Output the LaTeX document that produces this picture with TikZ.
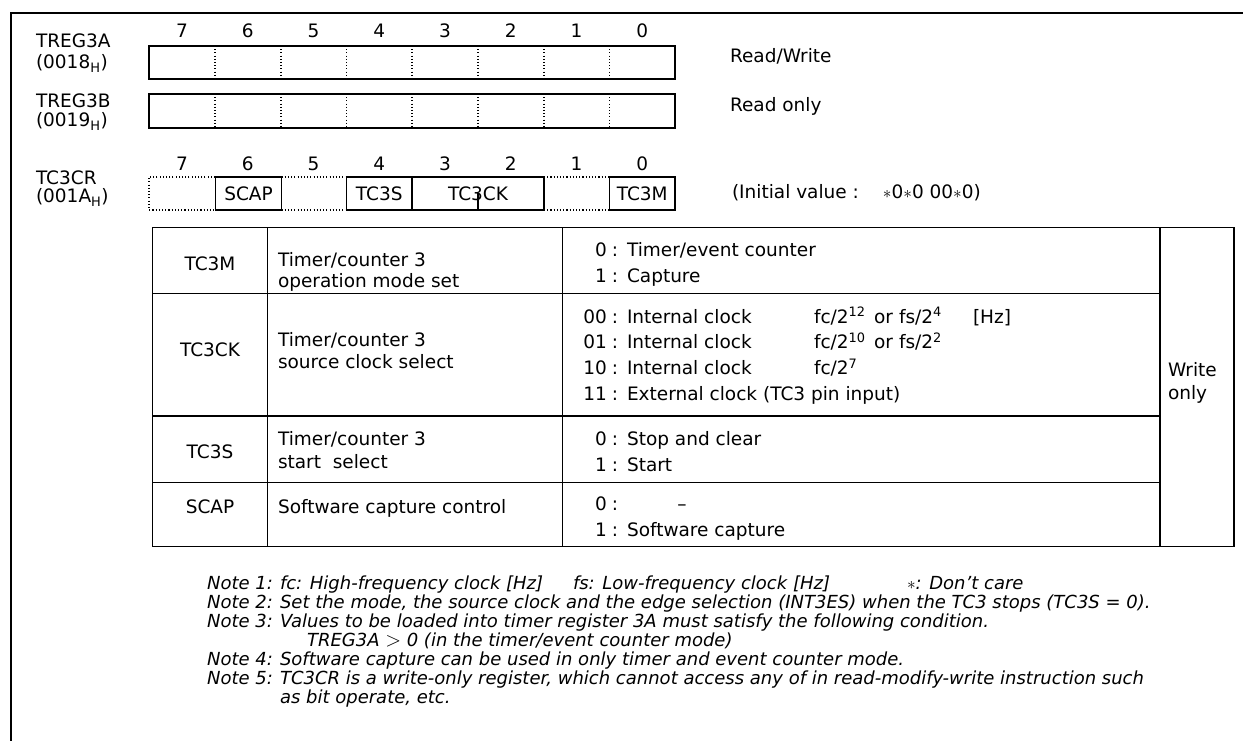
\documentclass[tikz,border=0pt]{standalone}
\usepackage{fontspec}
\setmainfont{DejaVu Sans}
\newcommand\fmain{\fontsize{18.5}{21}\selectfont}
\newcommand\fnote{\fontsize{18}{19}\selectfont\itshape}
\begin{document}
\begin{tikzpicture}[x=1pt,y=-1pt,
  txt/.style={inner sep=0pt,outer sep=0pt,font=\fmain},
  lw/.style={txt,anchor=base west},
  lc/.style={txt,anchor=base},
  le/.style={txt,anchor=base east},
  nt/.style={inner sep=0pt,outer sep=0pt,font=\fnote,anchor=base west},
  ntl/.style={nt,anchor=base east},
  frame/.style={line width=1.6pt},
  boxline/.style={line width=1.3pt},
  dotline/.style={line width=1.3pt,dash pattern=on 1.1pt off 2.1pt}]
\useasboundingbox (0,0) rectangle (1243,741);
% outer frame
\draw[frame] (11,741) -- (11,13) -- (1243,13);
% register labels
\node[lw] (la1) at (36,48) {TREG3A};
\node[lw] (la2) at (36,69) {(0018\textsubscript{H})};
\node[lw] (lb1) at (36,108) {TREG3B};
\node[lw] (lb2) at (36,127) {(0019\textsubscript{H})};
\node[lw] (lc1) at (36,185) {TC3CR};
\node[lw] (lc2) at (36,203) {(001A\textsubscript{H})};
% bit numbers
\foreach \b [count=\i from 0] in {7,6,5,4,3,2,1,0}{
  \node[txt] (bt\b) at ({182+65.75*\i},31) {\b};
  \node[txt] (bc\b) at ({182+65.75*\i},164) {\b};
}
% TREG3A / TREG3B
\draw[boxline] (149,46) rectangle (675,79);
\draw[boxline] (149,94) rectangle (675,128);
\foreach \x in {215,281,346.5,412,478,544,609.5}{
  \draw[dotline] (\x,46) -- (\x,79);
  \draw[dotline] (\x,94) -- (\x,128);
}
\node[lw] (rw) at (730,63) {Read/Write};
\node[lw] (ro) at (730,112) {Read only};
% TC3CR
\draw[dotline] (215,177) -- (149,177) -- (149,210) -- (215,210);
\draw[dotline] (281.5,177) -- (346.5,177);
\draw[dotline] (281.5,210) -- (346.5,210);
\draw[dotline] (544,177) -- (609.5,177);
\draw[dotline] (544,210) -- (609.5,210);
\draw[boxline] (215.5,177) rectangle (281.5,210);
\draw[boxline] (346.5,177) rectangle (412,210);
\draw[boxline] (412,177) rectangle (544,210);
\draw[boxline] (478,193) -- (478,210);
\draw[boxline] (609.5,177) rectangle (675,210);
\node[txt] (fscap) at (248.5,194) {SCAP};
\node[txt] (ftcs) at (379.2,194) {TC3S};
\node[txt] (ftck) at (478,194) {TC3CK};
\node[txt] (ftcm) at (642.2,194) {TC3M};
\node[lw] (init) at (732,199) {(Initial value :\hspace{1.3em}$\ast$0$\ast$0 00$\ast$0)};
% table
\draw[boxline] (152.7,227.7) rectangle (1234,546.7);
\draw[boxline] (267.3,227.7) -- (267.3,546.7);
\draw[boxline] (562.3,227.7) -- (562.3,546.7);
\draw[boxline] (1160,227.7) -- (1160,546.7);
\foreach \y in {293.3,416,482.7}{\draw[boxline] (152.7,\y) -- (1160,\y);}
% col 1
\node[lc] (k1) at (210,270.5) {TC3M};
\node[lc] (k2) at (210,356.5) {TC3CK};
\node[lc] (k3) at (210,458) {TC3S};
\node[lc] (k4) at (210,513.3) {SCAP};
% col 2
\node[lw] (d1a) at (278,266.7) {Timer/counter 3};
\node[lw] (d1b) at (278,287.3) {operation mode set};
\node[lw] (d2a) at (278,346.7) {Timer/counter 3};
\node[lw] (d2b) at (278,368) {source clock select};
\node[lw] (d3a) at (278,445) {Timer/counter 3};
\node[lw] (d3b) at (278,468) {start\ \ select};
\node[lw] (d4a) at (278,513) {Software capture control};
% col 3
\foreach \v/\t/\y [count=\i] in {
  0/Timer\slash event counter/256.7,
  1/Capture/282,
  00/Internal clock/323,
  01/Internal clock/348.3,
  10/Internal clock/374.3,
  11/External clock (TC3 pin input)/400,
  0/Stop and clear/445,
  1/Start/471.5,
  0/{}/510,
  1/Software capture/536.5}{
  \node[le] (v\i) at (607,\y) {\v};
  \node[lc] (c\i) at (615,\y) {:};
  \node[lw] (t\i) at (627,\y) {\t};
}
\node[lc] (dash) at (682,510) {--};
\node[lw] (fc1) at (814,323) {fc/2\textsuperscript{12}};
\node[lw] (or1) at (874,323) {or};
\node[lw] (fs1) at (899,323) {fs/2\textsuperscript{4}};
\node[lw] (hz) at (973,323) {[Hz]};
\node[lw] (fc2) at (814,348.3) {fc/2\textsuperscript{10}};
\node[lw] (or2) at (874,348.3) {or};
\node[lw] (fs2) at (899,348.3) {fs/2\textsuperscript{2}};
\node[lw] (fc3) at (814,374.3) {fc/2\textsuperscript{7}};
\node[lw] (wo1) at (1168,376) {Write};
\node[lw] (wo2) at (1168,399) {only};
% notes
\node[ntl] (n1) at (273,589) {Note 1:};
\node[nt] (n1a) at (280,589) {fc: High-frequency clock [Hz]};
\node[nt] (n1b) at (573,589) {fs: Low-frequency clock [Hz]};
\node[nt] (n1c) at (907,589) {$\ast$: Don’t care};
\node[ntl] (n2) at (273,608) {Note 2:};
\node[nt] (n2a) at (280,608) {Set the mode, the source clock and the edge selection (INT3ES) when the TC3 stops (TC3S = 0).};
\node[ntl] (n3) at (273,627) {Note 3:};
\node[nt] (n3a) at (280,627) {Values to be loaded into timer register 3A must satisfy the following condition.};
\node[nt] (n3b) at (307,646) {TREG3A {\fontsize{22}{22}\selectfont\smash{$>$}} 0 (in the timer/event counter mode)};
\node[ntl] (n4) at (273,665) {Note 4:};
\node[nt] (n4a) at (280,665) {Software capture can be used in only timer and event counter mode.};
\node[ntl] (n5) at (273,684) {Note 5:};
\node[nt] (n5a) at (280,684) {TC3CR is a write-only register, which cannot access any of in read-modify-write instruction such};
\node[nt] (n5b) at (280,703) {as bit operate, etc.};
\end{tikzpicture}
\end{document}
